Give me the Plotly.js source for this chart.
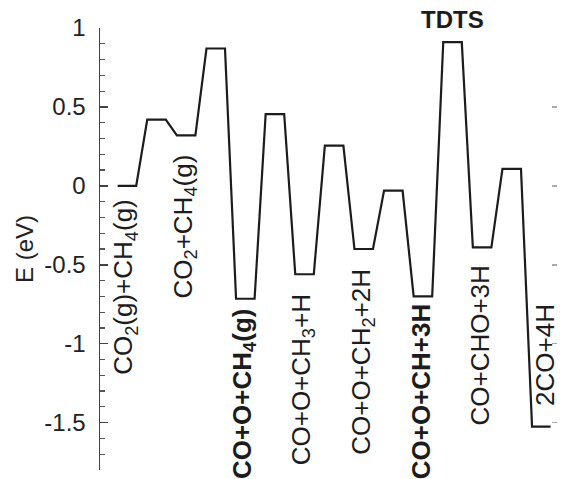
<!DOCTYPE html>
<html>
<head>
<meta charset="utf-8">
<script src="https://cdn.plot.ly/plotly-3.0.1.min.js"></script>
<style>
  html, body { margin: 0; padding: 0; background: #fff; }
  #chart { width: 563px; height: 479px; }
</style>
</head>
<body>
<div id="chart"></div>
<script>
// Relative energies (eV) of each state along the CO2 + CH4 reaction path
const energies = [0.00, 0.42, 0.32, 0.87, -0.715, 0.455, -0.56, 0.255, -0.40, -0.03, -0.70, 0.91, -0.39, 0.107, -1.525];

// Labels for the intermediate states (index into energies)
const labelIndex = [0, 2, 4, 6, 8, 10, 12, 14];
const labelText = [
  'CO<sub>2</sub>(g)+CH<sub>4</sub>(g)',
  'CO<sub>2</sub>+CH<sub>4</sub>(g)',
  '<b>CO+O+CH<sub>4</sub>(g)</b>',
  'CO+O+CH<sub>3</sub>+H',
  'CO+O+CH<sub>2</sub>+2H',
  '<b>CO+O+CH+3H</b>',
  'CO+CHO+3H',
  '2CO+4H'
];

const tickVals = [1, 0.5, 0, -0.5, -1, -1.5];
const tickText = ['1', '0.5', '0', '-0.5', '-1', '-1.5'];

// Each state is a short horizontal plateau; consecutive plateaus are joined
const halfWidth = 0.313;
const px = [], py = [];
energies.forEach((e, i) => {
  px.push(i - halfWidth, i + halfWidth);
  py.push(e, e);
});

const font = 'Liberation Sans, Arial, sans-serif';
const ink = '#1c1c1c';

// Vertical offsets (px) of each label from its plateau, and small horizontal nudges
const labelShift = [-11, -17, -8, -18, -18, -5, -16, 19];
const labelNudge = [-2, -2, -2, -2, -2, -2, -2, 3];

const annotations = labelIndex.map((idx, k) => ({
  x: idx, y: energies[idx], xref: 'x', yref: 'y',
  text: labelText[k], showarrow: false, textangle: -90,
  xanchor: 'center', yanchor: labelShift[k] > 0 ? 'bottom' : 'top',
  yshift: labelShift[k], xshift: labelNudge[k],
  font: { family: font, size: 26, color: ink }
}));

annotations.push({
  x: 11, y: energies[11], xref: 'x', yref: 'y',
  text: '<b>TDTS</b>', showarrow: false,
  xanchor: 'center', yanchor: 'bottom', yshift: 7,
  font: { family: font, size: 24, color: ink }
});

const traces = [
  {
    x: px, y: py, mode: 'lines', type: 'scatter',
    line: { color: ink, width: 2.2 },
    hoverinfo: 'skip', showlegend: false
  },
  { x: [], y: [], yaxis: 'y2', type: 'scatter', showlegend: false, hoverinfo: 'skip' }
];

const layout = {
  width: 563, height: 479,
  margin: { l: 100, r: 6, t: 28, b: 9 },
  paper_bgcolor: '#fff', plot_bgcolor: '#fff',
  showlegend: false,
  font: { family: font, color: ink },
  xaxis: {
    range: [-0.91, 14.53], visible: false, fixedrange: true
  },
  yaxis: {
    range: [-1.8, 1.0], showgrid: false, zeroline: false,
    showline: true, linecolor: '#444', linewidth: 1.5,
    tickvals: tickVals, ticktext: tickText,
    ticks: 'inside', ticklen: 8, tickwidth: 1.5, tickcolor: '#444',
    minor: { dtick: 0.1, ticks: 'inside', ticklen: 5, tickwidth: 1.2, tickcolor: '#555', showgrid: false },
    tickfont: { family: font, size: 24, color: '#222' },
    ticklabelstandoff: 8,
    title: { text: 'E (eV)', font: { family: font, size: 24, color: '#222' }, standoff: 4 }
  },
  yaxis2: {
    overlaying: 'y', side: 'right', range: [-1.8, 1.0],
    showgrid: false, zeroline: false, showline: false,
    tickvals: tickVals, showticklabels: false,
    ticks: 'inside', ticklen: 5, tickwidth: 1.5, tickcolor: '#aaa'
  },
  annotations: annotations
};

Plotly.newPlot('chart', traces, layout, { staticPlot: true, displayModeBar: false });
</script>
</body>
</html>
